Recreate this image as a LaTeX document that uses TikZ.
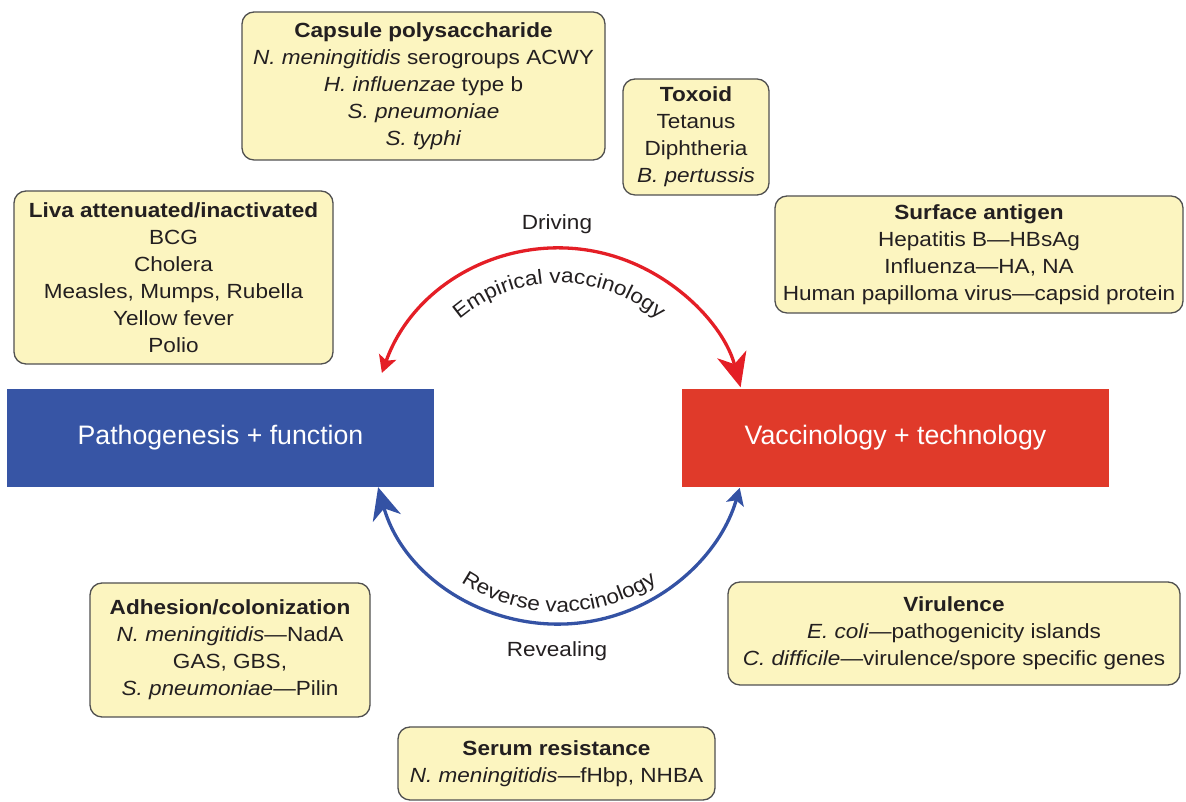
\documentclass[tikz,border=0pt]{standalone}
\usepackage{fontspec}
\setmainfont{Liberation Sans}[FakeStretch=1.1]
\newfontfamily\bigfont{Liberation Sans}
\usetikzlibrary{arrows.meta,decorations.text}
\definecolor{boxfill}{RGB}{252,245,192}
\definecolor{boxline}{RGB}{80,80,80}
\definecolor{txt}{RGB}{35,31,32}
\definecolor{pblue}{RGB}{55,85,165}
\definecolor{pred}{RGB}{224,58,42}
\definecolor{ared}{RGB}{228,30,38}
\definecolor{ablue}{RGB}{52,82,164}
\newcommand\arcfmt{\color{txt}\fontsize{20.5}{24}\selectfont}
\begin{document}
\begin{tikzpicture}[x=1pt,y=1pt,
 infobox/.style={draw=boxline, line width=1.3pt, fill=boxfill, rounded corners=12pt, align=center, text=txt, font=\fontsize{20.5}{27}\selectfont, inner sep=0pt},
 mainbox/.style={fill=#1, text=white, font=\bigfont\fontsize{26.7}{32}\selectfont, inner sep=0pt, minimum width=427pt, minimum height=98pt},
 arclabel/.style={text=txt, font=\fontsize{20.5}{24}\selectfont},
 redarc/.style={draw=ared, line width=3.3pt, {Stealth[length=17pt,width=18pt,inset=4pt]}-{Stealth[length=34pt,width=30pt,inset=10pt]}},
 bluearc/.style={draw=ablue, line width=3.3pt, {Stealth[length=32pt,width=29pt,inset=10pt]}-{Stealth[length=17pt,width=18pt,inset=4pt]}}]
\useasboundingbox (0,0) rectangle (1186,802);

\node[infobox, minimum width=363pt, minimum height=148pt] (caps) at (423.5,716)
 {\textbf{Capsule polysaccharide}\\\textit{N. meningitidis} serogroups ACWY\\\textit{H. influenzae} type b\\\textit{S. pneumoniae}\\\textit{S. typhi}};
\node[infobox, minimum width=146pt, minimum height=116pt] (tox) at (696,665)
 {\textbf{Toxoid}\\Tetanus\\Diphtheria\\\textit{B. pertussis}};
\node[infobox, minimum width=319pt, minimum height=173pt] (liva) at (173.5,524.5)
 {\textbf{Liva attenuated/inactivated}\\BCG\\Cholera\\Measles, Mumps, Rubella\\Yellow fever\\Polio};
\node[infobox, minimum width=408pt, minimum height=117pt] (surf) at (979,547.5)
 {\textbf{Surface antigen}\\Hepatitis B—HBsAg\\Influenza—HA, NA\\Human papilloma virus—capsid protein};
\node[infobox, minimum width=280pt, minimum height=134pt] (adh) at (230,152)
 {\textbf{Adhesion/colonization}\\\textit{N. meningitidis}—NadA\\GAS, GBS,\\\textit{S. pneumoniae}—Pilin};
\node[infobox, minimum width=452pt, minimum height=103pt] (vir) at (954,168.5)
 {\textbf{Virulence}\\\textit{E. coli}—pathogenicity islands\\\textit{C. difficile}—virulence/spore specific genes};
\node[infobox, minimum width=317pt, minimum height=73pt] (ser) at (556.5,38.5)
 {\textbf{Serum resistance}\\\textit{N. meningitidis}—fHbp, NHBA};

\node[mainbox=pblue] (path) at (220.5,364) {Pathogenesis + function};
\node[mainbox=pred] (vacc) at (895.5,364) {Vaccinology + technology};

\coordinate (c) at (559,366);
\coordinate (rs) at ([shift={(160.4:188)}]c);
\coordinate (bs) at ([shift={(195.8:188)}]c);
\draw[redarc] (rs) arc[start angle=160.4, end angle=15, radius=188];
\draw[bluearc] (bs) arc[start angle=195.8, end angle=344, radius=188];

\path[decorate, decoration={text along path, text align=center, text={|\arcfmt|Empirical vaccinology}}]
 ([shift={(150:153)}]c) arc[start angle=150, end angle=30, radius=153];
\path[decorate, decoration={text along path, text align=center, text={|\arcfmt|Reverse vaccinology}}]
 ([shift={(200:176)}]c) arc[start angle=200, end angle=340, radius=176];

\node[arclabel] (drv) at (557,578) {Driving};
\node[arclabel] (rev) at (557,151) {Revealing};
\end{tikzpicture}
\end{document}
